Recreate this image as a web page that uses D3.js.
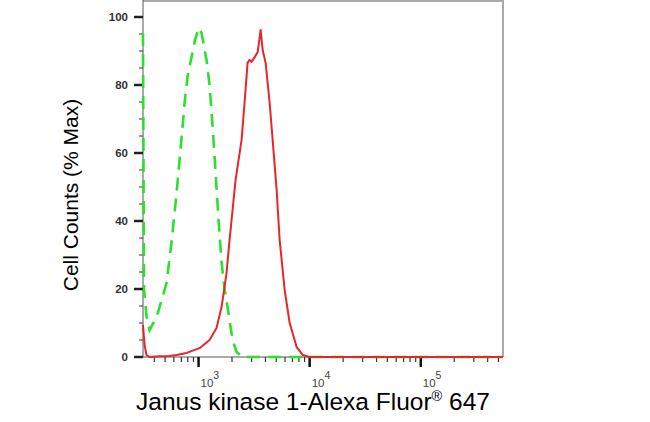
<!DOCTYPE html>
<html><head><meta charset="utf-8">
<script src="https://cdn.jsdelivr.net/npm/d3@7/dist/d3.min.js"></script>
<style>body{margin:0;background:#fff}svg{display:block}text{font-family:"Liberation Sans",Arial,sans-serif}</style>
</head><body><svg id="c" width="650" height="422"></svg>
<script>
// Red: Janus kinase 1 stained sample (intensity, % of max)
const redX = [316,327,340,362,446,548,634,780,1021,1256,1452,1611,1786,1901,2153,2438,2594,2761,2877,2999,3199,3404,3622,3776,4018,4365,4645,5047,5370,5957,6607,7638,8650,10000,549541];
const redY = [9.4,3.5,0.6,0,0.2,0.3,0.6,1.2,2.6,5.0,8.5,14.7,24.7,34.4,52,63.8,74.7,86.5,87.4,86.8,88.2,89.7,96.2,90.3,86.5,74.7,63.8,49,34.4,19.7,10,2.9,0.6,0,0];
// Green dashed: control
const greenX = [316,323,340,362,419,474,515,572,634,718,748,796,920,1000,1064,1180,1256,1337,1425,1514,1610,1714,1824,2023,2198,2489,549541];
const greenY = [95.3,20,12,7.9,11.8,17.6,21.8,34,48.2,67.6,74.7,82.4,92.6,96.8,95.3,87.4,80,68,54,40,28,20,14.7,5,1.5,0,0];
const yTicks = [0,20,40,60,80,100];
const xMajor = [1e3,1e4,1e5];
const xMajorExp = ["3","4","5"];
const xMinor = [400,500,600,700,800,900,2000,3000,4000,5000,6000,7000,8000,9000,20000,30000,40000,50000,60000,70000,80000,90000,200000,300000,400000,500000];
const yLabel = "Cell Counts (% Max)";
const xLabel = "Janus kinase 1-Alexa Fluor";

const svg = d3.select("#c");
const L=143,R=503,T=0,B=357;
const x = d3.scaleLog().domain([Math.pow(10,2.5), Math.pow(10,5.74)]).range([L,R]);
const y = d3.scaleLinear().domain([0,105]).range([B,T]);

// frame
svg.append("line").attr("x1",L).attr("x2",R).attr("y1",T+1).attr("y2",T+1).attr("stroke","#aaa").attr("stroke-width",2);
svg.append("line").attr("x1",R).attr("x2",R).attr("y1",T).attr("y2",B).attr("stroke","#aaa").attr("stroke-width",2);

// y axis
const ya = svg.append("g");
ya.append("line").attr("x1",L).attr("x2",L).attr("y1",T).attr("y2",B).attr("stroke","#555").attr("stroke-width",1);
const yMin = d3.range(0,105,5).filter(v=>v%20!==0);
ya.selectAll(".ym").data(yMin).join("line").attr("x1",139).attr("x2",L).attr("y1",d=>y(d)).attr("y2",d=>y(d)).attr("stroke","#333").attr("stroke-width",1);
ya.selectAll(".yM").data(yTicks).join("line").attr("x1",134).attr("x2",L).attr("y1",d=>y(d)).attr("y2",d=>y(d)).attr("stroke","#222").attr("stroke-width",2.5);
ya.selectAll(".yl").data(yTicks).join("text").attr("x",128).attr("y",d=>y(d)+4).attr("text-anchor","end")
  .attr("font-size",11.5).attr("font-weight","bold").attr("fill","#333").text(d=>d);

// x axis
const xa = svg.append("g");
xa.append("line").attr("x1",L).attr("x2",R).attr("y1",B).attr("y2",B).attr("stroke","#555").attr("stroke-width",1);
xa.selectAll(".xm").data(xMinor).join("line").attr("x1",d=>x(d)).attr("x2",d=>x(d)).attr("y1",B).attr("y2",B+5).attr("stroke","#333").attr("stroke-width",1.2);
xa.selectAll(".xM").data(xMajor).join("line").attr("x1",d=>x(d)).attr("x2",d=>x(d)).attr("y1",B).attr("y2",B+10).attr("stroke","#111").attr("stroke-width",2.5);
const xl = xa.selectAll(".xl").data(xMajor).join("text").attr("x",d=>x(d)+2).attr("y",387).attr("font-size",11.5).attr("fill","#444");
xl.append("tspan").text("10");
xl.append("tspan").attr("dy",-8).attr("font-size",10.5).text((d,i)=>xMajorExp[i]);

// curves
const line = d3.line().x(d=>x(d[0])).y(d=>y(d[1]));
svg.append("path").datum(greenX.map((v,i)=>[v,greenY[i]])).attr("d",line).attr("fill","none")
  .attr("stroke","#2ee02e").attr("stroke-width",2.6).attr("stroke-dasharray","13,8");
svg.append("path").datum(redX.map((v,i)=>[v,redY[i]])).attr("d",line).attr("fill","none")
  .attr("stroke","#e8262a").attr("stroke-width",2).attr("stroke-linejoin","round");

// titles
svg.append("text").attr("transform","translate(78,195) rotate(-90)").attr("text-anchor","middle")
  .attr("font-size",21).attr("fill","#000").text(yLabel);
const xt = svg.append("text").attr("x",313).attr("y",410).attr("text-anchor","middle").attr("font-size",24.5).attr("fill","#000");
xt.append("tspan").text(xLabel);
xt.append("tspan").attr("dy",-9).attr("font-size",14.5).text("®");
xt.append("tspan").attr("dy",9).text(" 647");
</script></body></html>
